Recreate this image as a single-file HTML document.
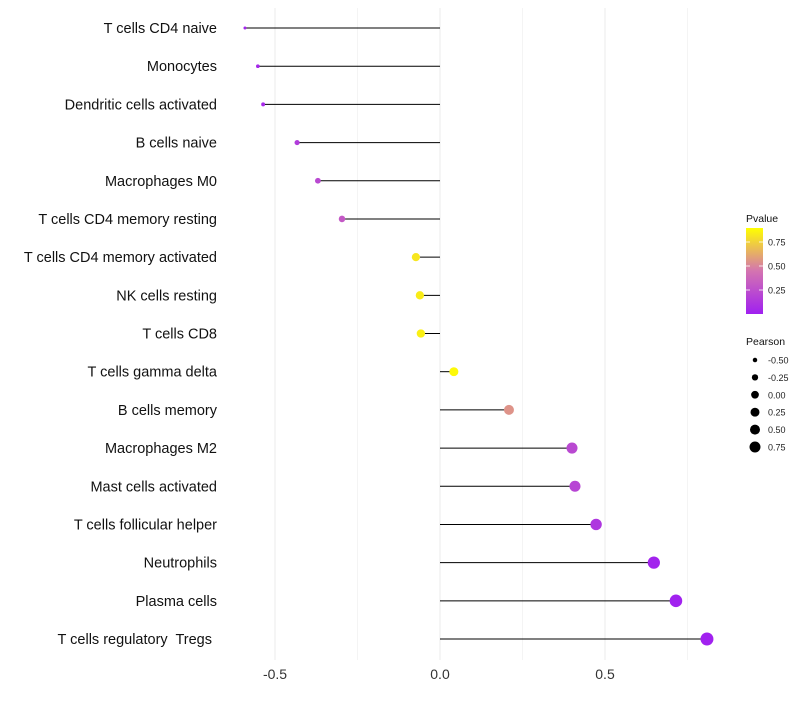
<!DOCTYPE html>
<html><head><meta charset="utf-8"><style>
body{margin:0;background:#fff;font-family:"Liberation Sans",sans-serif}
</style></head><body>
<svg id="c" width="800" height="700" xmlns="http://www.w3.org/2000/svg"></svg>
<script>
const categories=["T cells CD4 naive","Monocytes","Dendritic cells activated","B cells naive","Macrophages M0","T cells CD4 memory resting","T cells CD4 memory activated","NK cells resting","T cells CD8","T cells gamma delta","B cells memory","Macrophages M2","Mast cells activated","T cells follicular helper","Neutrophils","Plasma cells","T cells regulatory  Tregs"];
const pearson=[-0.591,-0.552,-0.536,-0.433,-0.370,-0.297,-0.073,-0.061,-0.058,0.042,0.209,0.400,0.409,0.473,0.648,0.715,0.809];
const pvalue=[0.03,0.04,0.05,0.15,0.22,0.3,0.82,0.84,0.85,0.88,0.55,0.22,0.2,0.12,0.02,0.01,0.005];
const xTicks=[-0.5,0,0.5];
const xTickLabels=["-0.5","0.0","0.5"];
const pTicks=[0.25,0.5,0.75];
const sizeTicks=[-0.5,-0.25,0,0.25,0.5,0.75];
const NS="http://www.w3.org/2000/svg";
const svg=document.getElementById('c');
function mk(t,a,p){const e=document.createElementNS(NS,t);for(const k in a)e.setAttribute(k,a[k]);(p||svg).appendChild(e);return e;}
const X=v=>440+v*330;
const Y=i=>28+i*(611/16);
const R=v=>Math.sqrt(Math.max(1.5,19+28.4*v));
const RL=v=>Math.sqrt(Math.max(1.5,15+20*v));
function hex(c){return c.match(/\w\w/g).map(h=>parseInt(h,16));}
const stops=[[0,hex("a020f0")],[0.45,hex("d474b0")],[0.9,hex("ffff00")]];
function col(p){p=Math.max(0,Math.min(0.9,p));for(let i=0;i<stops.length-1;i++){const[a,ca]=stops[i],[b,cb]=stops[i+1];if(p<=b){const t=(p-a)/(b-a);return "rgb("+ca.map((v,k)=>Math.round(v+(cb[k]-v)*t)).join(",")+")";}}}
[-0.5,-0.25,0,0.25,0.5,0.75].forEach(v=>{const g=mk('line',{x1:X(v),x2:X(v),y1:8,y2:660,stroke:Math.abs(v*4)%2?'#f4f4f4':'#ebebeb','stroke-width':1});
});
xTicks.forEach((v,i)=>{const t=mk('text',{x:X(v),y:679,'text-anchor':'middle','font-size':14,fill:'#333'});t.textContent=xTickLabels[i];
});
categories.forEach((c,i)=>{
const t=mk('text',{x:217,y:Y(i)+5,'text-anchor':'end','font-size':14.5,fill:'#111'});t.textContent=c;t.style.whiteSpace='pre';
if(i===categories.length-1)t.setAttribute('x',212);

const l=mk('line',{x1:X(0),x2:X(pearson[i]),y1:Y(i),y2:Y(i),stroke:'#000','stroke-width':1});

const d=mk('circle',{cx:X(pearson[i]),cy:Y(i),r:R(pearson[i]),fill:col(pvalue[i])});

});
const defs=mk('defs',{});const lg=mk('linearGradient',{id:'g',x1:0,y1:1,x2:0,y2:0},defs);
stops.forEach(s=>mk('stop',{offset:s[0]/0.9,'stop-color':'rgb('+s[1].join(',')+')'},lg));
const lt=mk('text',{x:746,y:222,'font-size':10.5,fill:'#111'});lt.textContent='Pvalue';

const cb=mk('rect',{x:746,y:228,width:17,height:86,fill:'url(#g)'});

const PY=p=>314-p*96;
pTicks.forEach(p=>{mk('line',{x1:746,x2:750,y1:PY(p),y2:PY(p),stroke:'#fff','stroke-width':0.8});mk('line',{x1:759,x2:763,y1:PY(p),y2:PY(p),stroke:'#fff','stroke-width':0.8});
const t=mk('text',{x:768,y:PY(p)+3.5,'font-size':9,fill:'#222'});t.textContent=p.toFixed(2);
});
const st=mk('text',{x:746,y:345,'font-size':10.5,fill:'#111'});st.textContent='Pearson';

sizeTicks.forEach((v,i)=>{const y=360+i*17.4;const d=mk('circle',{cx:755,cy:y,r:RL(v),fill:'#000'});

const t=mk('text',{x:768,y:y+3.5,'font-size':9,fill:'#222'});t.textContent=v.toFixed(2);
});
</script>
</body></html>
